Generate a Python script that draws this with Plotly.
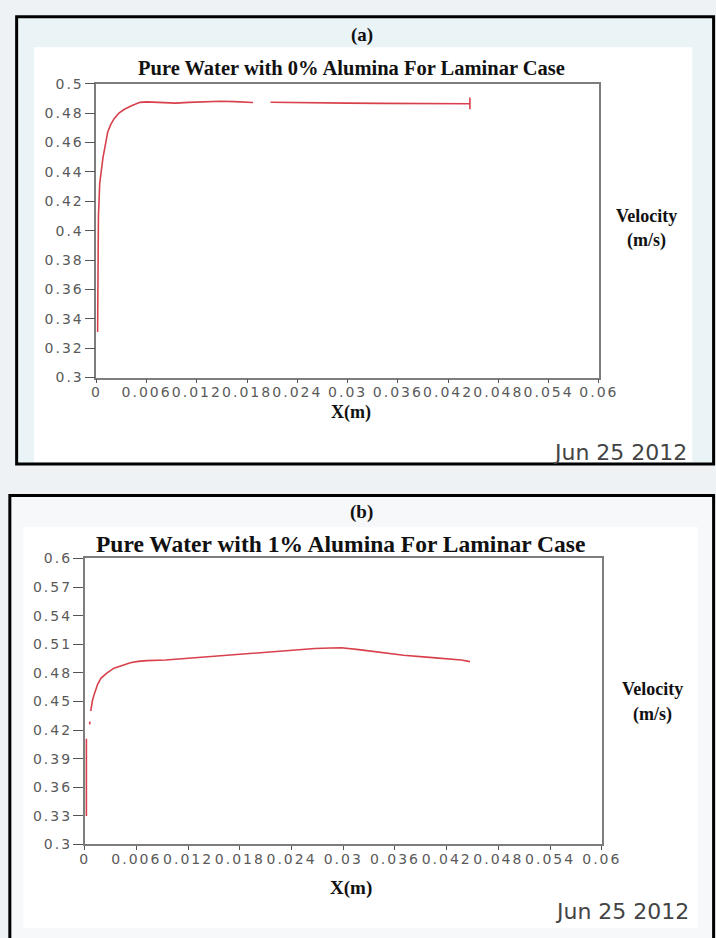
import plotly.graph_objects as go

W, H = 716, 938

# ---------------- data ----------------
x_a = [0.00015, 0.00018, 0.00025, 0.0004, 0.0006, 0.0008, 0.001, 0.00135, 0.0017, 0.0021,
       0.0027, 0.0033, 0.0042, 0.0052, 0.006, 0.007, 0.0083, 0.0095, 0.011, 0.013,
       0.0149, 0.0165, 0.0178, 0.0187, None, 0.0208, 0.023, 0.026, 0.03, 0.034,
       0.038, 0.0415, 0.0435, 0.0446, 0.0446, 0.0446]
v_a = [0.331, 0.37, 0.41, 0.432, 0.443, 0.45, 0.456, 0.467, 0.472, 0.476,
       0.48, 0.4824, 0.485, 0.4873, 0.4876, 0.4875, 0.487, 0.4868, 0.4873, 0.4878,
       0.488, 0.4878, 0.4874, 0.4872, None, 0.4874, 0.4872, 0.4868, 0.4868, 0.4866,
       0.4866, 0.4862, 0.4864, 0.4864, 0.4906, 0.4826]

x_b = [0.0002, 0.0002, None, 0.00058, 0.0006, None, 0.0007, 0.0009, 0.00116, 0.0015,
       0.0019, 0.0026, 0.0034, 0.0043, 0.0053, 0.0062, 0.0072, 0.0094, 0.0117, 0.0135,
       0.0155, 0.0185, 0.0215, 0.0245, 0.0267, 0.0285, 0.0298, 0.0318, 0.0345, 0.037,
       0.04, 0.0421, 0.0437, 0.0447]
v_b = [0.330, 0.411, None, 0.426, 0.429, None, 0.440, 0.451, 0.459, 0.468,
       0.4745, 0.480, 0.4849, 0.488, 0.4907, 0.4920, 0.4928, 0.4935, 0.4952, 0.4965,
       0.4979, 0.500, 0.502, 0.504, 0.5055, 0.506, 0.5064, 0.5044, 0.5015, 0.4985,
       0.4962, 0.495, 0.4935, 0.4918]

x_tick_vals = [0, 0.006, 0.012, 0.018, 0.024, 0.03, 0.036, 0.042, 0.048, 0.054, 0.06]
x_tick_text = ["0", "0.006", "0.012", "0.018", "0.024", "0.03", "0.036", "0.042", "0.048", "0.054", "0.06"]
ya_tick_vals = [0.3, 0.32, 0.34, 0.36, 0.38, 0.4, 0.42, 0.44, 0.46, 0.48, 0.5]
ya_tick_text = ["0.3", "0.32", "0.34", "0.36", "0.38", "0.4", "0.42", "0.44", "0.46", "0.48", "0.5"]
yb_tick_vals = [0.3, 0.33, 0.36, 0.39, 0.42, 0.45, 0.48, 0.51, 0.54, 0.57, 0.6]
yb_tick_text = ["0.3", "0.33", "0.36", "0.39", "0.42", "0.45", "0.48", "0.51", "0.54", "0.57", "0.6"]

title_a = "Pure Water with 0% Alumina For Laminar Case"
title_b = "Pure Water with 1% Alumina For Laminar Case"
panel_a_label = "(a)"
panel_b_label = "(b)"
x_title = "X(m)"
y_title_1 = "Velocity"
y_title_2 = "(m/s)"
date_text = "Jun 25 2012"

# ---------------- helpers (pixel -> paper) ----------------
def px(x):
    return x / W

def py(y):
    return 1 - y / H

LINE = "#d8404c"
SERIF = "Liberation Serif, Times New Roman, serif"
SANS = "DejaVu Sans, sans-serif"

fig = go.Figure()
fig.add_trace(go.Scatter(x=x_a, y=v_a, mode="lines", xaxis="x", yaxis="y",
                         line=dict(color=LINE, width=1.6), connectgaps=False,
                         showlegend=False, hoverinfo="skip"))
fig.add_trace(go.Scatter(x=x_b, y=v_b, mode="lines", xaxis="x2", yaxis="y2",
                         line=dict(color=LINE, width=1.6), connectgaps=False,
                         showlegend=False, hoverinfo="skip"))

def xaxis_style(domain, anchor):
    return dict(domain=domain, anchor=anchor, range=[0, 0.06], tickmode="array",
                tickvals=x_tick_vals, ticktext=x_tick_text, ticks="outside", ticklen=4,
                tickwidth=1.2, tickcolor="#555", showline=True, mirror=True,
                linecolor="#7d7d7d", linewidth=1.5, showgrid=False, zeroline=False,
                ticklabelstandoff=-3,
                tickfont=dict(family=SANS, size=14, color="#5a5a5a"), fixedrange=True)

def yaxis_style(domain, anchor, rng, vals, text):
    return dict(domain=domain, anchor=anchor, range=rng, tickmode="array",
                tickvals=vals, ticktext=text, ticks="outside", ticklen=10,
                tickwidth=1.2, tickcolor="#555", showline=True, mirror=True,
                linecolor="#7d7d7d", linewidth=1.5, showgrid=False, zeroline=False,
                ticklabelstandoff=-2,
                tickfont=dict(family=SANS, size=14, color="#5a5a5a"), fixedrange=True)

shapes = [
    # panel a frame & fill
    dict(type="rect", xref="paper", yref="paper", x0=px(13), x1=px(730), y0=py(464), y1=py(9),
         fillcolor="#eaf4f7", line=dict(color="black", width=3), layer="below"),
    dict(type="rect", xref="paper", yref="paper", x0=px(31), x1=px(708), y0=py(462), y1=py(40),
         fillcolor="white", line=dict(width=0), layer="below"),
    # panel b frame & fill
    dict(type="rect", xref="paper", yref="paper", x0=px(6), x1=px(730), y0=py(960), y1=py(496),
         fillcolor="#f6f8fa", line=dict(color="black", width=3), layer="below"),
    dict(type="rect", xref="paper", yref="paper", x0=px(20), x1=px(714), y0=py(936), y1=py(528),
         fillcolor="white", line=dict(width=0), layer="below"),
]

def ann(text, x, y, size, family=SERIF, bold=True, color="#111", xanchor="center"):
    t = f"<b>{text}</b>" if bold else text
    return dict(text=t, x=px(x), y=py(y), xref="paper", yref="paper", showarrow=False,
                xanchor=xanchor, yanchor="middle", font=dict(family=family, size=size, color=color))

annotations = [
    ann(panel_a_label, 368, 27, 19),
    ann(title_a, 357, 61, 20.5),
    ann(x_title, 357, 412, 18),
    ann(y_title_1, 661, 212, 18),
    ann(y_title_2, 661, 237, 18),
    ann(date_text, 634, 452, 22, family=SANS, bold=False, color="#444"),
    ann(panel_b_label, 368, 513, 19),
    ann(title_b, 346, 545, 23.5),
    ann(x_title, 357, 895, 19),
    ann(y_title_1, 667, 693, 18),
    ann(y_title_2, 667, 719, 18),
    ann(date_text, 636, 919, 22, family=SANS, bold=False, color="#444"),
]

fig.update_layout(
    width=W, height=H, margin=dict(l=0, r=0, t=0, b=0, pad=0),
    paper_bgcolor="#eef2f5", plot_bgcolor="white",
    xaxis=xaxis_style([px(95), px(612)], "y"),
    yaxis=yaxis_style([py(376), py(77)], "x", [0.3, 0.5], ya_tick_vals, ya_tick_text),
    xaxis2=xaxis_style([px(83), px(615)], "y2"),
    yaxis2=yaxis_style([py(851), py(560)], "x2", [0.3, 0.6], yb_tick_vals, yb_tick_text),
    shapes=shapes, annotations=annotations, showlegend=False,
)

post = """
var gd = document.getElementById('{plot_id}');
function widen(){
  gd.querySelectorAll('.xtick text, .x2tick text, .ytick text, .y2tick text').forEach(function(t){
    t.style.letterSpacing = '2px';
  });
}
widen();
if (gd.on) { gd.on('plotly_afterplot', widen); }
"""

fig.write_html("out.html", config={"displayModeBar": False}, post_script=post)
